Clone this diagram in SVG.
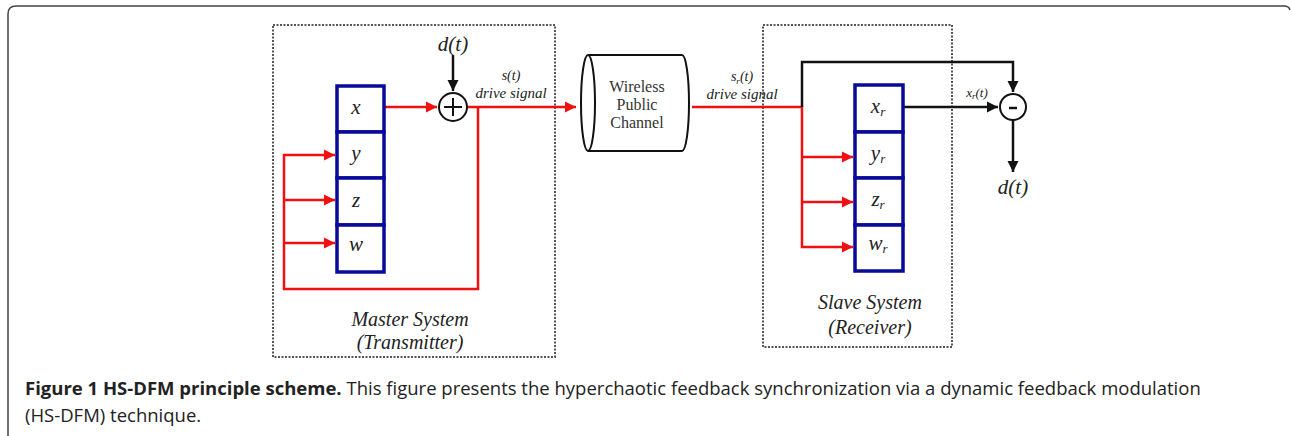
<svg xmlns="http://www.w3.org/2000/svg" width="1292" height="436" viewBox="0 0 1292 436">
<style>
.frame{fill:none;stroke:#444;stroke-width:1.5}
.dot{fill:none;stroke:#555;stroke-width:2;stroke-dasharray:2 1.5}
.blk{fill:#fff;stroke:#0a0a9a;stroke-width:3.5}
.red{fill:none;stroke:#f01010;stroke-width:2.5}
.blk-l{fill:none;stroke:#111;stroke-width:2.5}
.circ{fill:#fff;stroke:#111;stroke-width:2}
.it{font-family:"Liberation Serif",serif;font-style:italic;fill:#222;text-anchor:middle}
.ch{font-family:"Liberation Serif",serif;font-size:16px;fill:#333;text-anchor:middle}
.cap{font-family:"Open Sans",sans-serif;font-size:18.5px;fill:#222}
</style>
<defs>
<marker id="ar" viewBox="0 0 10 10" refX="10" refY="5" markerWidth="4.5" markerHeight="4.5" orient="auto" markerUnits="strokeWidth"><path d="M0,0 L10,5 L0,10 z" fill="#f01010"/></marker>
<marker id="ab" viewBox="0 0 10 10" refX="10" refY="5" markerWidth="4.5" markerHeight="4.5" orient="auto" markerUnits="strokeWidth"><path d="M0,0 L10,5 L0,10 z" fill="#111"/></marker>
</defs>
<path class="frame" d="M8,436 V14 Q8,6 16,6 H1284 Q1289,6 1290,10"/>
<g id="master">
<rect class="dot" x="273" y="25" width="282" height="332"/>
<text class="it" x="410" y="326" font-size="20">Master System</text>
<text class="it" x="410" y="349" font-size="20">(Transmitter)</text>
</g>
<g id="slave">
<rect class="dot" x="763" y="25" width="189" height="322"/>
<text class="it" x="870" y="309" font-size="20">Slave System</text>
<text class="it" x="870" y="334" font-size="20">(Receiver)</text>
</g>
<g id="connectors">
<path class="red" d="M384,107 H437" marker-end="url(#ar)"/>
<path class="red" d="M467,107 H576" marker-end="url(#ar)"/>
<path class="red" d="M478,107 V289 H284 V155 H335" marker-end="url(#ar)"/>
<path class="red" d="M284,200 H335" marker-end="url(#ar)"/>
<path class="red" d="M284,243 H335" marker-end="url(#ar)"/>
<path class="blk-l" d="M453,55 V91" marker-end="url(#ab)"/>
<path class="red" d="M692,107 H802 V247 H853" marker-end="url(#ar)"/>
<path class="red" d="M802,157 H853" marker-end="url(#ar)"/>
<path class="red" d="M802,202 H853" marker-end="url(#ar)"/>
<path class="blk-l" d="M802,107 V62 H1013 V92" marker-end="url(#ab)"/>
<path class="blk-l" d="M903,107 H998" marker-end="url(#ab)"/>
<path class="blk-l" d="M1013,120 V172" marker-end="url(#ab)"/>
</g>
<g id="x"><rect class="blk" x="337" y="86" width="47" height="46"/><text class="it" x="356" y="114" font-size="21">x</text></g>
<g id="y"><rect class="blk" x="337" y="132" width="47" height="46"/><text class="it" x="356" y="160" font-size="21">y</text></g>
<g id="z"><rect class="blk" x="337" y="178" width="47" height="47"/><text class="it" x="356" y="207" font-size="21">z</text></g>
<g id="w"><rect class="blk" x="337" y="225" width="47" height="47"/><text class="it" x="356" y="251" font-size="21">w</text></g>
<g id="sum">
<circle class="circ" cx="453" cy="107" r="14"/>
<path d="M444,107 H462 M453,98 V116" stroke="#111" stroke-width="2"/>
<text class="it" x="453" y="51" font-size="21">d(t)</text>
<text class="it" x="511" y="80" font-size="14">s(t)</text>
<text class="it" x="511" y="98" font-size="15">drive signal</text>
</g>
<g id="channel">
<path d="M588,55 H682 A7,48 0 0 1 682,151 H588" fill="#fff" stroke="#111" stroke-width="2"/>
<ellipse cx="588" cy="103" rx="7" ry="48" fill="#fff" stroke="#111" stroke-width="2"/>
<text class="ch" x="637" y="92">Wireless</text>
<text class="ch" x="637" y="110">Public</text>
<text class="ch" x="637" y="128">Channel</text>
<text class="it" x="742" y="81" font-size="14">s<tspan font-size="9" dy="3">r</tspan><tspan dy="-3">(t)</tspan></text>
<text class="it" x="742" y="99" font-size="15">drive signal</text>
</g>
<g id="xr"><rect class="blk" x="855" y="85" width="48" height="47"/><text class="it" x="878" y="113" font-size="21">x<tspan font-size="13" dy="3">r</tspan></text></g>
<g id="yr"><rect class="blk" x="855" y="132" width="48" height="46"/><text class="it" x="878" y="160" font-size="21">y<tspan font-size="13" dy="3">r</tspan></text></g>
<g id="zr"><rect class="blk" x="855" y="178" width="48" height="47"/><text class="it" x="878" y="206" font-size="21">z<tspan font-size="13" dy="3">r</tspan></text></g>
<g id="wr"><rect class="blk" x="855" y="225" width="48" height="46"/><text class="it" x="878" y="250" font-size="21">w<tspan font-size="13" dy="3">r</tspan></text></g>
<g id="diff">
<circle class="circ" cx="1013" cy="107" r="13"/>
<path d="M1009,108 H1017" stroke="#111" stroke-width="2.5"/>
<text class="it" x="977" y="97" font-size="13">x<tspan font-size="9" dy="2">r</tspan><tspan dy="-2">(t)</tspan></text>
<text class="it" x="1013" y="194" font-size="21">d(t)</text>
</g>
<g id="caption">
<text class="cap" x="25" y="395"><tspan font-weight="bold">Figure 1 HS-DFM principle scheme.</tspan> This figure presents the hyperchaotic feedback synchronization via a dynamic feedback modulation</text>
<text class="cap" x="25" y="422">(HS-DFM) technique.</text>
</g>
</svg>
